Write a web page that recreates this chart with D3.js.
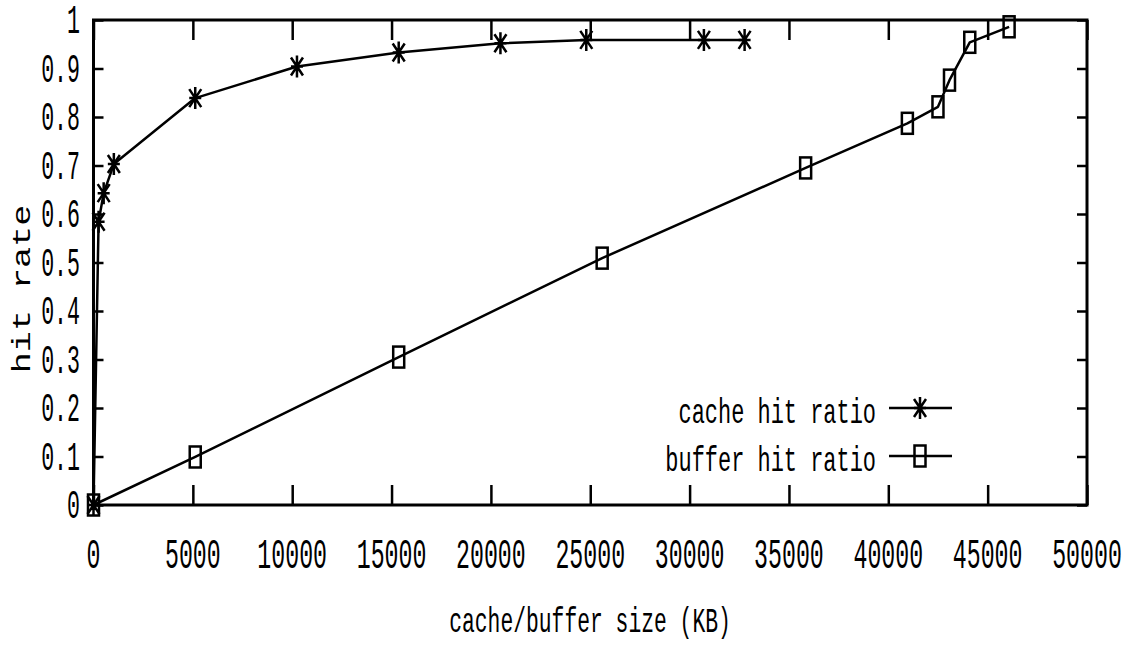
<!DOCTYPE html>
<html>
<head>
<meta charset="utf-8">
<script src="https://cdn.jsdelivr.net/npm/d3@7"></script>
<style>
  body { margin: 0; background: #fff; }
  text { font-family: "Liberation Mono", "DejaVu Sans Mono", monospace; fill: #000; }
</style>
</head>
<body>
<div id="chart"></div>
<script>
'use strict';

// Data
var cacheSize = [0, 256, 512, 1024, 5120, 10240, 15360, 20480, 24800, 30720, 32768]
var cacheHit = [0, 0.584, 0.643, 0.703, 0.839, 0.904, 0.933, 0.952, 0.959, 0.959, 0.959]

var bufferSize = [0, 5120, 15360, 25600, 35840, 40960, 42500, 43080, 44100, 46080]
var bufferHit = [0, 0.099, 0.305, 0.509, 0.695, 0.787, 0.821, 0.876, 0.954, 0.986]

var xTicks = [0, 5000, 10000, 15000, 20000, 25000, 30000, 35000, 40000, 45000, 50000]
var yTicks = [0, 0.1, 0.2, 0.3, 0.4, 0.5, 0.6, 0.7, 0.8, 0.9, 1]

var seriesNames = ['cache hit ratio', 'buffer hit ratio']

var width = 1129, height = 645
var margin = {top: 20, right: 42, bottom: 140, left: 93.5}

var x = d3.scaleLinear().domain([0, 50000]).range([margin.left, width - margin.right])
var y = d3.scaleLinear().domain([0, 1]).range([height - margin.bottom, margin.top])

var svg = d3.select('#chart').append('svg')
  .attr('width', width)
  .attr('height', height)

var cache = cacheSize.map(function(d, i){ return {x: d, y: cacheHit[i]} })
var buffer = bufferSize.map(function(d, i){ return {x: d, y: bufferHit[i]} })

// Axes: long ticks on x, short ticks on y, mirrored on top/right
var xTickLen = 20, yTickLen = 10
var fmtY = function(d){ return d === 0 ? '0' : d === 1 ? '1' : d3.format('.1f')(d) }

svg.append('g')
  .attr('transform', 'translate(0,' + y(0) + ')')
  .call(d3.axisBottom(x).tickValues(xTicks).tickSize(-xTickLen).tickFormat(''))
svg.append('g')
  .attr('transform', 'translate(0,' + y(1) + ')')
  .call(d3.axisTop(x).tickValues(xTicks).tickSize(-xTickLen).tickFormat(''))
svg.append('g')
  .attr('transform', 'translate(' + x(0) + ',0)')
  .call(d3.axisLeft(y).tickValues(yTicks).tickSize(-yTickLen).tickFormat(''))
svg.append('g')
  .attr('transform', 'translate(' + x(50000) + ',0)')
  .call(d3.axisRight(y).tickValues(yTicks).tickSize(-yTickLen).tickFormat(''))

svg.selectAll('.domain').remove()
svg.selectAll('.tick line')
  .attr('stroke', '#000')
  .attr('stroke-width', 2.5)

// border
svg.append('rect')
  .attr('x', x(0))
  .attr('y', y(1))
  .attr('width', x(50000) - x(0))
  .attr('height', y(0) - y(1))
  .attr('fill', 'none')
  .attr('stroke', '#000')
  .attr('stroke-width', 3)

// tick labels, condensed by scaling
svg.append('g').selectAll('text')
  .data(xTicks)
  .enter().append('text')
    .attr('transform', function(d){ return 'translate(' + x(d) + ',568) scale(0.54,1)' })
    .attr('text-anchor', 'middle')
    .attr('font-size', 43)
    .text(function(d){ return d })

svg.append('g').selectAll('text')
  .data(yTicks)
  .enter().append('text')
    .attr('transform', function(d){ return 'translate(80,' + (y(d) + 13) + ') scale(0.54,1)' })
    .attr('text-anchor', 'end')
    .attr('font-size', 40)
    .text(fmtY)

// axis titles
svg.append('text')
  .attr('transform', 'translate(590,632) scale(0.61,1)')
  .attr('text-anchor', 'middle')
  .attr('font-size', 35)
  .text('cache/buffer size (KB)')

svg.append('text')
  .attr('transform', 'translate(30,289) rotate(-90) scale(1.35,1)')
  .attr('text-anchor', 'middle')
  .attr('font-size', 26)
  .text('hit rate')

// lines
var line = d3.line()
  .x(function(d){ return x(d.x) })
  .y(function(d){ return y(d.y) })

;[cache, buffer].forEach(function(data){
  svg.append('path')
    .datum(data)
    .attr('fill', 'none')
    .attr('stroke', '#000')
    .attr('stroke-width', 2.5)
    .attr('stroke-linejoin', 'round')
    .attr('d', line)
})

// markers: tall star and tall box
var starPath = 'M0,-11V11M-6,-9L6,9M-6,9L6,-9M-6,0H6'
function star(g, px, py) {
  g.append('path')
    .attr('transform', 'translate(' + px + ',' + py + ')')
    .attr('d', starPath)
    .attr('fill', 'none')
    .attr('stroke', '#000')
    .attr('stroke-width', 2.5)
}
function box(g, px, py) {
  g.append('rect')
    .attr('x', px - 5.5)
    .attr('y', py - 10.5)
    .attr('width', 11)
    .attr('height', 21)
    .attr('fill', 'none')
    .attr('stroke', '#000')
    .attr('stroke-width', 2.5)
}

var marks = svg.append('g')
cache.forEach(function(d){ star(marks, x(d.x), y(d.y)) })
buffer.forEach(function(d){ box(marks, x(d.x), y(d.y)) })

// legend
var legend = svg.append('g')
var legendRows = [{name: seriesNames[0], ly: 408, mark: star}, {name: seriesNames[1], ly: 456, mark: box}]
legendRows.forEach(function(r){
  legend.append('text')
    .attr('transform', 'translate(876,' + (r.ly + 15) + ') scale(0.61,1)')
    .attr('text-anchor', 'end')
    .attr('font-size', 36)
    .text(r.name)
  legend.append('line')
    .attr('x1', 889).attr('x2', 952)
    .attr('y1', r.ly).attr('y2', r.ly)
    .attr('stroke', '#000')
    .attr('stroke-width', 2.5)
  r.mark(legend, 920, r.ly)
})
</script>
</body>
</html>
